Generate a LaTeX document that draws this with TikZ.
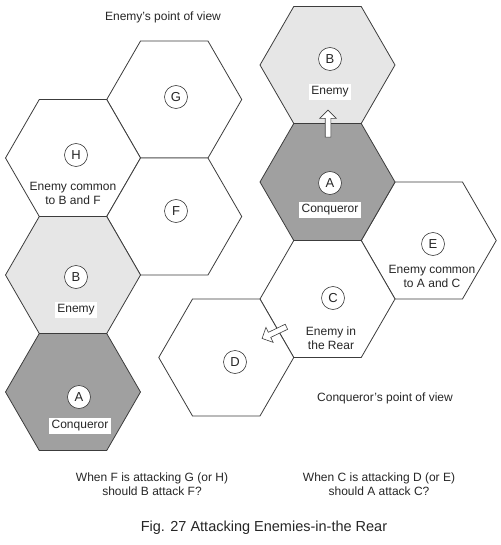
\documentclass[tikz,border=0pt]{standalone}
\usepackage{fontspec}
\setmainfont{Liberation Sans}
\usetikzlibrary{shapes.geometric,shapes.arrows}
\definecolor{edge}{HTML}{3C3C3C}
\definecolor{lightg}{HTML}{E6E6E6}
\definecolor{darkg}{HTML}{A0A0A0}
\definecolor{txt}{HTML}{262626}
\begin{document}
\begin{tikzpicture}[x=1pt,y=-1pt,
 hex/.style={regular polygon, regular polygon sides=6, minimum size=135pt, inner sep=0pt, outer sep=0pt, draw=edge, line width=0.8pt, fill=white},
 letter/.style={circle, draw=edge, fill=white, line width=0.6pt, minimum size=23pt, inner sep=0pt, font=\fontsize{13}{13}\selectfont, text=txt},
 tag/.style={fill=white, inner sep=2.5pt, font=\fontsize{12}{14}\selectfont, text=txt},
 lbl/.style={align=center, inner sep=0pt, font=\fontsize{12}{14}\selectfont, text=txt},
 blockarrow/.style={single arrow, draw=edge, fill=white, line width=0.6pt, inner sep=2.5pt, single arrow head extend=5.5pt, minimum height=27pt}]
\useasboundingbox (0,0) rectangle (500,545);
% left group
\node[hex] (lG) at (174.25,99.5) {};
\node[hex] (lH) at (73,158) {};
\node[hex] (lF) at (174.25,216.5) {};
\node[hex, fill=lightg] (lB) at (73,275) {};
\node[hex, fill=darkg] (lA) at (73,392) {};
% right group
\node[hex, fill=lightg] (rB) at (327.5,65) {};
\node[hex] (rE) at (428.75,240.5) {};
\node[hex] (rC) at (327.5,299) {};
\node[hex] (rD) at (226.25,357.5) {};
\node[hex, fill=darkg] (rA) at (327.5,182) {};
% left labels
\node[lbl] (t1) at (163,17) {Enemy’s point of view};
\node[letter] (cG) at (176,97) {G};
\node[letter] (cH) at (76,155) {H};
\node[lbl] (tH) at (73,193) {Enemy common\\to B and F};
\node[letter] (cF) at (176,211) {F};
\node[letter] (cB) at (76,277) {B};
\node[tag] (tB) at (76,310) {Enemy};
\node[letter] (cA) at (79,397) {A};
\node[tag] (tA) at (80,426) {Conqueror};
% right labels
\node[letter] (dB) at (330,59) {B};
\node[tag] (sB) at (330,92) {Enemy};
\node[letter] (dA) at (330,183) {A};
\node[tag] (sA) at (330,210) {Conqueror};
\node[letter] (dE) at (433,244) {E};
\node[lbl] (sE) at (432,276.5) {Enemy common\\to A and C};
\node[letter] (dC) at (333,298) {C};
\node[lbl] (sC) at (331,338.5) {Enemy in\\the Rear};
\node[letter] (dD) at (235,362) {D};
\node[lbl] (t2) at (385,398) {Conqueror’s point of view};
% arrows
\node[blockarrow, rotate=90] (up) at (328,125) {};
\node[blockarrow, rotate=205.6] (diag) at (275.5,332) {};
% bottom
\node[lbl] (q1) at (152,484) {When F is attacking G (or H)\\should B attack F?};
\node[lbl] (q2) at (379,484) {When C is attacking D (or E)\\should A attack C?};
\node[lbl, font=\fontsize{14.5}{16}\selectfont] (cap) at (264,528) {Fig. 27 Attacking Enemies-in-the Rear};
\end{tikzpicture}
\end{document}
